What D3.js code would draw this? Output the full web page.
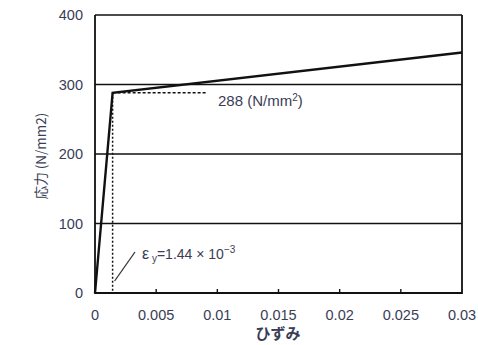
<!DOCTYPE html>
<html><head><meta charset="utf-8">
<script src="https://cdn.jsdelivr.net/npm/d3@7"></script>
<style>body{margin:0;background:#fff}</style>
</head><body>
<svg id="c" width="478" height="345"></svg>
<script>
const strain = [0, 0.00144, 0.03];
const stress = [0, 288, 346];
const xTicks = [0, 0.005, 0.01, 0.015, 0.02, 0.025, 0.03];
const xTickLabels = ["0", "0.005", "0.01", "0.015", "0.02", "0.025", "0.03"];
const yTicks = [0, 100, 200, 300, 400];
const yieldStrain = 0.00144, yieldStress = 288, dashEnd = 0.0091;

const svg = d3.select("#c");
const L = 95, R = 462, T = 15, B = 293;
const x = d3.scaleLinear().domain([0, 0.03]).range([L, R]);
const y = d3.scaleLinear().domain([0, 400]).range([B, T]);
const txt = "#3a3d55";
const font = "'Liberation Sans', Arial, sans-serif";

// gridlines
svg.append("g").selectAll("line").data(yTicks.filter(d => d > 0)).join("line")
  .attr("x1", L).attr("x2", R).attr("y1", d => y(d)).attr("y2", d => y(d))
  .attr("stroke", "#111").attr("stroke-width", 1.6);
// frame
svg.append("path").attr("d", `M${L},${T}V${B}H${R}V${T}`).attr("fill", "none")
  .attr("stroke", "#111").attr("stroke-width", 1.8);
// x ticks inward
svg.append("g").selectAll("line").data(xTicks.slice(1, -1)).join("line")
  .attr("x1", d => x(d)).attr("x2", d => x(d)).attr("y1", B).attr("y2", B - 4)
  .attr("stroke", "#111").attr("stroke-width", 1.4);

// tick labels
svg.append("g").selectAll("text").data(xTicks).join("text")
  .attr("x", d => x(d)).attr("y", 320).attr("text-anchor", "middle")
  .attr("font-family", font).attr("font-size", 14.5).attr("fill", txt)
  .text((d, i) => xTickLabels[i]);
svg.append("g").selectAll("text").data(yTicks).join("text")
  .attr("x", 83).attr("y", d => y(d) + 5).attr("text-anchor", "end")
  .attr("font-family", font).attr("font-size", 14.5).attr("fill", txt)
  .text(d => d);

// curve
const pts = strain.map((s, i) => [s, stress[i]]);
svg.append("path").datum(pts)
  .attr("d", d3.line().x(d => x(d[0])).y(d => y(d[1])))
  .attr("fill", "none").attr("stroke", "#111").attr("stroke-width", 2.4);

// dashed helper lines
svg.append("line").attr("x1", x(yieldStrain)).attr("x2", x(dashEnd))
  .attr("y1", y(yieldStress)).attr("y2", y(yieldStress))
  .attr("stroke", "#111").attr("stroke-width", 1.5).attr("stroke-dasharray", "3,2");
svg.append("line").attr("x1", x(yieldStrain)).attr("x2", x(yieldStrain))
  .attr("y1", y(yieldStress)).attr("y2", y(0))
  .attr("stroke", "#111").attr("stroke-width", 1.5).attr("stroke-dasharray", "2,2");

// annotations
const a1 = svg.append("text").attr("x", 218).attr("y", 106)
  .attr("font-family", font).attr("font-size", 15).attr("fill", txt);
a1.append("tspan").text("288 (N/mm");
a1.append("tspan").attr("dy", -5).attr("font-size", 10).text("2");
a1.append("tspan").attr("dy", 5).text(")");

svg.append("line").attr("x1", x(yieldStrain) + 2).attr("y1", 281).attr("x2", 135).attr("y2", 252)
  .attr("stroke", "#333").attr("stroke-width", 1.3);
const a2 = svg.append("text").attr("x", 142).attr("y", 259)
  .attr("font-family", font).attr("font-size", 14).attr("fill", txt);
a2.append("tspan").attr("font-size", 16).text("ε");
a2.append("tspan").attr("dy", 3).attr("font-size", 10).text(" y");
a2.append("tspan").attr("dy", -3).text("=1.44 × 10");
a2.append("tspan").attr("dy", -6).attr("font-size", 10).text("−3");

// axis titles
svg.append("text").attr("x", 278).attr("y", 339).attr("text-anchor", "middle")
  .attr("font-family", "'Noto Sans CJK JP', sans-serif").attr("font-size", 15)
  .attr("font-weight", "bold").attr("fill", txt).text("ひずみ");
svg.append("text").attr("transform", "translate(46,156) rotate(-90)").attr("text-anchor", "middle")
  .attr("font-family", "'Noto Sans CJK JP', sans-serif").attr("font-size", 13.5)
  .attr("fill", txt).text("応力 (N/mm2)");
</script>
</body></html>
